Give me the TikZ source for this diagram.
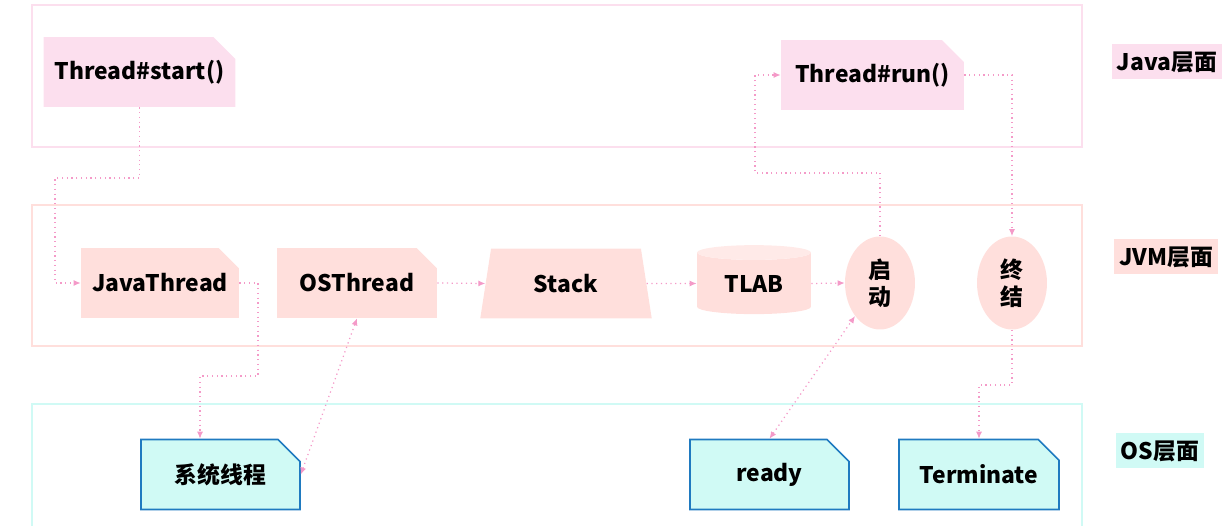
\documentclass[tikz,border=0pt]{standalone}
\usepackage{fontspec}
\setmainfont{Noto Sans CJK SC}
\usetikzlibrary{arrows.meta,shapes.geometric,shapes.misc,positioning}

\definecolor{javapink}{HTML}{FCDFEE}
\definecolor{jvmpink}{HTML}{FFDFDC}
\definecolor{jvmlight}{HTML}{FFEAE8}
\definecolor{oscyan}{HTML}{D0FAF5}
\definecolor{osblue}{HTML}{1F7AC0}
\definecolor{linkpink}{HTML}{F49AC8}

\begin{document}
\begin{tikzpicture}[x=0.02cm,y=-0.02cm,
   every node/.style={font=\fontsize{13}{15.5}\selectfont\bfseries},
   >={Latex[length=4pt,width=3.5pt]},
   layer/.style={line width=1.1pt},
   notebox/.style={chamfered rectangle, chamfered rectangle corners=north east,
      chamfered rectangle xsep=0.22cm, chamfered rectangle ysep=0.22cm,
      minimum height=1.4cm, inner sep=0pt},
   javabox/.style={notebox, fill=javapink},
   jvmbox/.style={notebox, fill=jvmpink},
   osbox/.style={notebox, fill=oscyan, draw=osblue, line width=0.9pt},
   stateoval/.style={ellipse, fill=jvmpink, minimum width=1.4cm, minimum height=1.86cm,
      inner sep=0pt, align=center},
   layertag/.style={inner xsep=3pt, minimum height=0.7cm},
   link/.style={draw=linkpink, dotted, line width=0.7pt},
]
  \useasboundingbox (0,0) rectangle (1232,526);

  \draw[layer, draw=javapink] (32,5) rectangle (1082,147);      % Java layer
  \draw[layer, draw=jvmpink] (32,205) rectangle (1082,346);     % JVM layer
  \draw[layer, draw=oscyan] (32,404) rectangle (1082,560);      % OS layer

  \node[layertag, fill=javapink] (javatag) at (1167,62) {Java层面};
  \node[layertag, fill=jvmpink] (jvmtag) at (1166,257) {JVM层面};
  \node[layertag, fill=oscyan] (ostag) at (1160,451) {OS层面};

  % Java layer
  \node[javabox, minimum width=3.74cm] (start) at (139.5,72) {Thread\#start()};
  \node[javabox, minimum width=3.66cm] (run) at (872.5,75) {Thread\#run()};

  % JVM layer
  \node[jvmbox, minimum width=3.16cm] (jthread) at (160,283) {JavaThread};
  \node[jvmbox, minimum width=3.2cm] (osthread) at (357,283) {OSThread};
  \node[trapezium, trapezium left angle=76, trapezium right angle=76,
        trapezium stretches=true, minimum width=3.44cm, minimum height=1.4cm,
        inner sep=0pt, fill=jvmpink] (stack) at (566,283.5) {Stack};
  \node[cylinder, shape border rotate=90, aspect=0.25, minimum width=2.28cm,
        minimum height=1.38cm, inner sep=0pt, cylinder uses custom fill,
        cylinder body fill=jvmpink, cylinder end fill=jvmlight] (tlab) at (754,283.5) {TLAB};
  \node[stateoval] (launch) at (880,283) {启\\动};
  \node[stateoval] (finish) at (1012,283) {终\\结};

  % OS layer
  \node[osbox, minimum width=3.18cm] (systhread) at (220.5,474.5) {系统线程};
  \node[osbox, minimum width=3.18cm] (ready) at (769.5,474.5) {ready};
  \node[osbox, minimum width=3.2cm] (term) at (979,474.5) {Terminate};

  % connectors
  \draw[link,->] (start.south) |- (55,178) |- (jthread.west);
  \draw[link,->] (jthread.east) -| (258,376) -| ([xshift=-0.41cm]systhread.north);
  \draw[link,<->] (systhread.east) -- (osthread.south);
  \draw[link,->] (osthread.east) -- (stack.west);
  \draw[link,->] (stack.east) -- (tlab.west);
  \draw[link,->] (tlab.east) -- (launch.west);
  \draw[link,->] (launch.north) |- (755,173) |- (run.west);
  \draw[link,->] (run.east) -| (finish.north);
  \draw[link,->] (finish.south) |- (979,385) -- (term.north);
  \draw[link,<->] (ready.north) -- (launch.south west);
\end{tikzpicture}
\end{document}
